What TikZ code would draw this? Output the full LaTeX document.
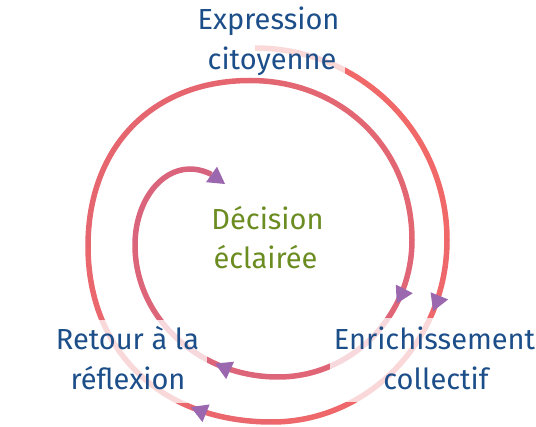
\documentclass[tikz,border=0pt]{standalone}
\usepackage{fontspec}
\setmainfont{Fira Sans}
\usetikzlibrary{arrows.meta,decorations.markings}
\definecolor{spA}{RGB}{240,104,104}
\definecolor{spB}{RGB}{214,100,126}
\definecolor{arrowc}{RGB}{155,104,176}
\definecolor{labelblue}{RGB}{28,78,137}
\definecolor{labelgreen}{RGB}{107,140,33}
\tikzset{
  spiral/.style={line width=5.5pt},
  fadebox/.style={fill=white, fill opacity=0.75},
  lbl/.style={anchor=base, text=labelblue, font=\fontsize{29}{40}\selectfont, inner sep=0pt},
  ctr/.style={lbl, text=labelgreen},
  tri/.tip={Triangle[width=19pt,length=16.5pt,line width=0pt,color=arrowc]},
  arrowmark/.style={postaction={decorate}, decoration={markings, mark=at position #1 with {\arrow{tri}}}}
}
\begin{document}
\begin{tikzpicture}[x=1pt,y=-1pt]
\useasboundingbox (0,0) rectangle (536,427);
% spiral key points and control points
\coordinate (P0) at (255,48);
\coordinate (C01a) at (361,48);
\coordinate (C01b) at (447,134);
\coordinate (P1) at (447,240);
\coordinate (C12a) at (447,340.5);
\coordinate (C12b) at (368.7,422);
\coordinate (P2) at (272,422);
\coordinate (C23a) at (161.6,422);
\coordinate (C23b) at (88,351.6);
\coordinate (P3) at (88,246);
\coordinate (C34a) at (88,146.7);
\coordinate (C34b) at (152.8,80.5);
\coordinate (P4) at (250,80.5);
\coordinate (C45a) at (342.3,80.5);
\coordinate (C45b) at (412,149.1);
\coordinate (P5) at (412,240);
\coordinate (C56a) at (412,315.7);
\coordinate (C56b) at (352,377);
\coordinate (P6) at (278,377);
\coordinate (C67a) at (199,377);
\coordinate (C67b) at (135,317.9);
\coordinate (P7) at (135,245);
\coordinate (C78a) at (135,203);
\coordinate (C78b) at (159.6,169);
\coordinate (P8) at (190,169);
\coordinate (C89a) at (203,169);
\coordinate (C89b) at (213,175.5);
\coordinate (P9) at (225,184);
% spiral
\draw[spiral, draw=spA] (P0) .. controls (C01a) and (C01b) .. (P1);
\draw[spiral, draw=spB!13!spA] (P1) .. controls (C12a) and (C12b) .. (P2);
\draw[spiral, draw=spB!25!spA] (P2) .. controls (C23a) and (C23b) .. (P3);
\draw[spiral, draw=spB!38!spA] (P3) .. controls (C34a) and (C34b) .. (P4);
\draw[spiral, draw=spB!50!spA] (P4) .. controls (C45a) and (C45b) .. (P5);
\draw[spiral, draw=spB!63!spA] (P5) .. controls (C56a) and (C56b) .. (P6);
\draw[spiral, draw=spB!75!spA] (P6) .. controls (C67a) and (C67b) .. (P7);
\draw[spiral, draw=spB!88!spA] (P7) .. controls (C78a) and (C78b) .. (P8);
\draw[spiral, draw=spB, -{tri}] (P8) .. controls (C89a) and (C89b) .. (P9);
% translucent boxes behind labels
\coordinate (B1a) at (190,0);
\coordinate (B1b) at (345,76);
\coordinate (B2a) at (40,320);
\coordinate (B2b) at (207,403);
\coordinate (B3a) at (330,318);
\coordinate (B3b) at (536,402);
\fill[fadebox] (B1a) rectangle (B1b);
\fill[fadebox] (B2a) rectangle (B2b);
\fill[fadebox] (B3a) rectangle (B3b);
% arrowheads along the spiral
\path[arrowmark=0.26] (P1) .. controls (C12a) and (C12b) .. (P2);
\path[arrowmark=0.29] (P2) .. controls (C23a) and (C23b) .. (P3);
\path[arrowmark=0.31] (P5) .. controls (C56a) and (C56b) .. (P6);
\path[arrowmark=0.3] (P6) .. controls (C67a) and (C67b) .. (P7);
% labels
\node[lbl] (ex1) at (268.5,30) {Expression};
\node[lbl] (ex2) at (272,70) {citoyenne};
\node[ctr] (de1) at (267.5,230) {Décision};
\node[ctr] (de2) at (265.5,269) {éclairée};
\node[lbl] (re1) at (127.5,350) {Retour à la};
\node[lbl] (re2) at (128,390) {réflexion};
\node[lbl] (en1) at (434.5,350) {Enrichissement};
\node[lbl] (en2) at (436,390) {collectif};
\end{tikzpicture}
\end{document}
